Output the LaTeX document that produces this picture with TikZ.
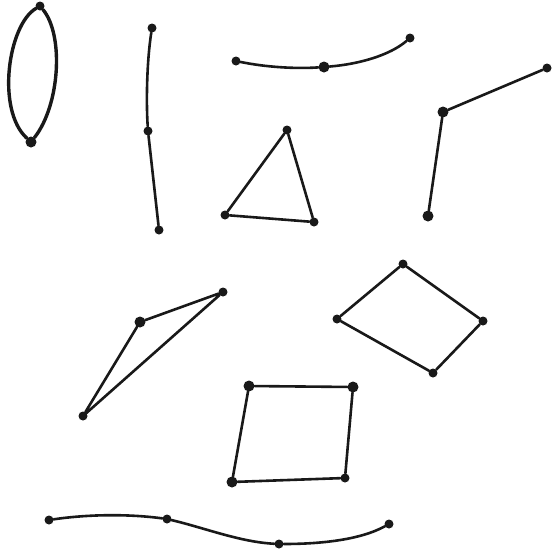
\documentclass[tikz,border=0pt]{standalone}
\begin{document}
\begin{tikzpicture}[x=1pt,y=-1pt,
  dot/.style={circle,fill=black!90,inner sep=0pt,minimum size=9pt},
  bigdot/.style={dot,minimum size=11pt},
  edge/.style={draw=black!90,line width=2.6pt,line cap=round},
  thick edge/.style={edge,line width=3.4pt}]
\useasboundingbox (0,0) rectangle (555,558);
% loop
\node[dot] (l1) at (40,6) {};
\node[bigdot] (l2) at (31,142) {};
\draw[thick edge] (l1) .. controls (8,25) and (-4,110) .. (l2);
\draw[thick edge] (l1) .. controls (64,35) and (60,105) .. (l2);
% vertical path
\node[dot] (p1) at (152,28) {};
\node[dot] (p2) at (148,131) {};
\node[dot] (p3) at (159,230) {};
\draw[edge] (p1) .. controls (147,60) and (146,100) .. (p2);
\draw[edge] (p2) -- (p3);
% top curve
\node[dot] (c1) at (236,61) {};
\node[bigdot] (c2) at (324,67) {};
\node[dot] (c3) at (410,38) {};
\draw[edge] (c1) .. controls (265,67) and (295,69) .. (c2);
\draw[edge] (c2) .. controls (360,64) and (390,55) .. (c3);
% triangle
\node[dot] (t1) at (287,130) {};
\node[dot] (t2) at (225,215) {};
\node[dot] (t3) at (314,222) {};
\draw[edge] (t1) -- (t2) -- (t3) -- (t1);
% bent path
\node[dot] (b1) at (547,68) {};
\node[bigdot] (b2) at (443,112) {};
\node[bigdot] (b3) at (428,216) {};
\draw[edge] (b1) -- (b2) -- (b3);
% thin triangle
\node[dot] (s1) at (223,292) {};
\node[bigdot] (s2) at (140,322) {};
\node[dot] (s3) at (83,416) {};
\draw[edge] (s1) -- (s2) -- (s3) -- (s1);
% diamond
\node[dot] (d1) at (403,264) {};
\node[dot] (d2) at (337,319) {};
\node[dot] (d3) at (483,321) {};
\node[dot] (d4) at (433,373) {};
\draw[edge] (d1) -- (d2) -- (d4) -- (d3) -- (d1);
% square
\node[bigdot] (q1) at (249,386) {};
\node[bigdot] (q2) at (353,387) {};
\node[bigdot] (q3) at (232,482) {};
\node[dot] (q4) at (345,478) {};
\draw[edge] (q1) -- (q2) -- (q4) -- (q3) -- (q1);
% bottom curve
\node[dot] (w1) at (49,520) {};
\node[dot] (w2) at (167,519) {};
\node[dot] (w3) at (279,544) {};
\node[dot] (w4) at (389,524) {};
\draw[edge] (w1) .. controls (90,514) and (130,514) .. (w2);
\draw[edge] (w2) .. controls (205,528) and (240,542) .. (w3);
\draw[edge] (w3) .. controls (320,544) and (360,540) .. (w4);
\end{tikzpicture}
\end{document}
